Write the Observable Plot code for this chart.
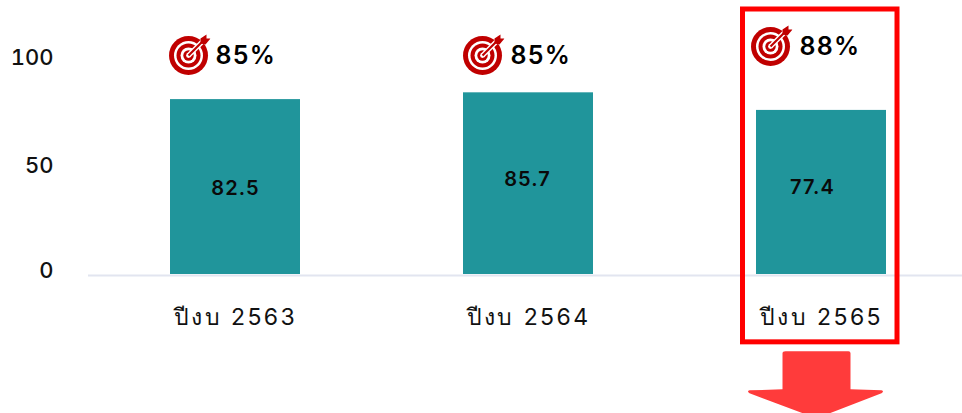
<!DOCTYPE html>
<html><head><meta charset="utf-8">
<script src="https://cdn.jsdelivr.net/npm/d3@7"></script>
<script src="https://cdn.jsdelivr.net/npm/@observablehq/plot@0.6"></script>
<style>html,body{margin:0;padding:0;background:#fff}svg{display:block}
g[font-size="25"] text{letter-spacing:1.3px}
g[font-size="23"] text{letter-spacing:2.4px}
g[font-size="20"] text{letter-spacing:1.1px}
</style>
</head><body><div id="chart"></div>
<script>
const years = ["ปีงบ 2563", "ปีงบ 2564", "ปีงบ 2565"];
const actual = [82.5, 85.7, 77.4];
const targets = [85, 85, 88];
const yTicks = [0, 50, 100];
const highlighted = "ปีงบ 2565";

const rows = years.map((year, i) => ({year, actual: actual[i], target: targets[i]}));
const font = "Inter, 'Noto Sans', 'DejaVu Sans', sans-serif";

const targetIcon = "data:image/svg+xml," + encodeURIComponent(
`<svg xmlns="http://www.w3.org/2000/svg" viewBox="0 0 42 42" width="42" height="42">
<circle cx="20" cy="22" r="19.5" fill="#c00000"/><circle cx="20" cy="22" r="14.5" fill="#fff"/>
<circle cx="20" cy="22" r="12" fill="#c00000"/><circle cx="20" cy="22" r="8" fill="#fff"/>
<circle cx="20" cy="22" r="5.2" fill="#c00000"/><circle cx="20" cy="22" r="2.4" fill="#fff"/>
<path d="M20 22L35 7" stroke="#fff" stroke-width="5"/><path d="M20 22L35 7" stroke="#c00000" stroke-width="2.2"/>
<path d="M32 5L38 1L38 5L42 5L37 11L32 10Z" fill="#c00000"/></svg>`);
const arrowIcon = "data:image/svg+xml," + encodeURIComponent(
`<svg xmlns="http://www.w3.org/2000/svg" viewBox="0 0 140 90" width="140" height="90">
<path d="M36 3Q36 1 39 1H102Q104 1 104 3V39L135 40Q138 41 135 43L70 68L3 43Q0 41 3 40L36 39Z" fill="#ff3b3b"/></svg>`);

const targetDy = [-7, -7, -16];
const iconDx = [-46, -45, -50];
const labelDx = [-20, -18, -22];
const valueDy = [2, -4, -5];
const valueDx = [0, -1, -9];
const tickDy = [-4, -3, -5];

const plot = Plot.plot({
  width: 962, height: 413,
  marginTop: 0, marginBottom: 0, marginLeft: 88, marginRight: 0,
  style: {fontFamily: font, background: "#fff", overflow: "hidden"},
  x: {type: "band", domain: years, range: [88.5, 967.5], paddingInner: 0.556, paddingOuter: 0.278, axis: null},
  y: {domain: [0, 100], range: [274, 62], axis: null},
  marks: [
    Plot.ruleY([0], {stroke: "#e2e5f0", strokeWidth: 2, dy: 1}),
    Plot.barY(rows, {x: "year", y: "actual", fill: "#20959b"}),
    rows.map((r, i) => Plot.text([r], {x: "year", y: d => d.actual / 2, text: d => d.actual.toFixed(1), dx: valueDx[i], dy: valueDy[i], fontSize: 20, fontWeight: 600, fill: "#0a0a0a"})),
    rows.map((r, i) => Plot.image([r], {x: "year", y: () => 100, src: () => targetIcon, width: 42, height: 42, dx: iconDx[i], dy: targetDy[i] - 1})),
    rows.map((r, i) => Plot.text([r], {x: "year", y: () => 100, text: d => `${d.target}%`, dx: labelDx[i], dy: targetDy[i], textAnchor: "start", fontSize: 25, fontWeight: 600, fill: "#000"})),
    yTicks.map((t, i) => Plot.axisY({ticks: [t], tickSize: 0, tickPadding: 3, anchor: "left", label: null, fontSize: 22, fontWeight: 500, dx: -32, dy: tickDy[i], fill: "#111"})),
    Plot.axisX({tickSize: 0, anchor: "bottom", label: null, fontSize: 23, fontWeight: 400, y: () => -12, fill: "#111"}),
    Plot.barY([highlighted], {x: d => d, y1: () => -32, y2: () => 125, insetLeft: -13.5, insetRight: -11, fill: "none", stroke: "#ff0000", strokeWidth: 5}),
    Plot.image([highlighted], {x: d => d, y: () => -57, src: () => arrowIcon, width: 140, height: 90, dx: -5})
  ].flat()
});
document.getElementById("chart").append(plot);
</script></body></html>
